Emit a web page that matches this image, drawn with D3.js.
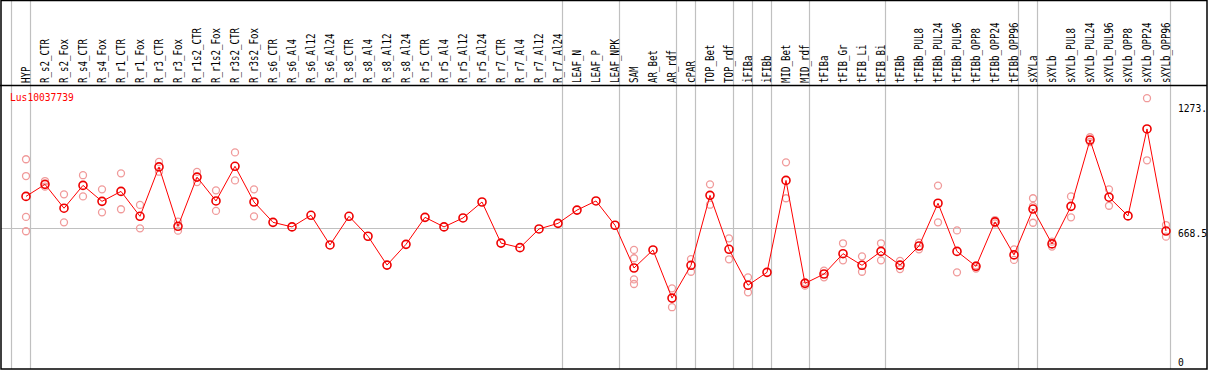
<!DOCTYPE html>
<html>
<head>
<meta charset="utf-8">
<script src="https://cdn.jsdelivr.net/npm/d3@7"></script>
<style>
  body { margin: 0; background: #fff; }
  text { font-family: "DejaVu Sans Mono", monospace; }
</style>
</head>
<body>
<svg id="chart" width="1209" height="370"></svg>
<script>
var geneName = "Lus10037739";

var samples = ["HYP", "R_s2_CTR", "R_s2_Fox", "R_s4_CTR", "R_s4_Fox", "R_r1_CTR", "R_r1_Fox",
  "R_r3_CTR", "R_r3_Fox", "R_r1s2_CTR", "R_r1s2_Fox", "R_r3s2_CTR", "R_r3s2_Fox",
  "R_s6_CTR", "R_s6_Al4", "R_s6_Al12", "R_s6_Al24", "R_s8_CTR", "R_s8_Al4", "R_s8_Al12", "R_s8_Al24",
  "R_r5_CTR", "R_r5_Al4", "R_r5_Al12", "R_r5_Al24", "R_r7_CTR", "R_r7_Al4", "R_r7_Al12", "R_r7_Al24",
  "LEAF_N", "LEAF_P", "LEAF_NPK", "SAM", "AR_Bet", "AR_rdf", "cPAR", "TOP_Bet", "TOP_rdf",
  "iFIBa", "iFIBb", "MID_Bet", "MID_rdf", "tFIBa", "tFIB_Gr", "tFIB_Li", "tFIB_Bi",
  "tFIBb", "tFIBb_PUL8", "tFIBb_PUL24", "tFIBb_PUL96", "tFIBb_OPP8", "tFIBb_OPP24", "tFIBb_OPP96",
  "sXYLa", "sXYLb", "sXYLb_PUL8", "sXYLb_PUL24", "sXYLb_PUL96", "sXYLb_OPP8", "sXYLb_OPP24", "sXYLb_OPP96"];

// mean expression per sample
var means = [822, 880, 765, 875, 798, 846, 726, 964, 678, 915, 800, 967, 795,
  697, 675, 731, 588, 726, 630, 491, 591, 721, 675, 718, 795, 597, 575, 665, 692,
  756, 800, 683, 477, 564, 332, 490, 827, 567, 394, 456, 899, 403,
  448, 546, 490, 557, 491, 583, 789, 557, 485, 699, 540,
  761, 593, 774, 1094, 818, 728, 1147, 655];

// replicate values per sample (empty when only the mean is shown)
var replicates = [
  [1001, 920, 723, 654], [896, 869], [832, 697], [924, 822], [856, 745], [933, 760], [781, 668],
  [988, 941], [700, 657], [940, 891], [851, 752], [1034, 899], [856, 726],
  [], [], [], [], [], [], [], [], [], [], [], [], [], [], [], [],
  [], [], [], [564, 524, 422, 400], [], [379, 288], [520, 459], [880, 782], [620, 519],
  [432, 360], [], [986, 813], [409, 392], [464, 432], [596, 514], [533, 459], [596, 514],
  [511, 472], [599, 567], [874, 697], [658, 456], [490, 474], [708, 692], [567, 516],
  [813, 775, 695], [604, 580], [822, 721], [1107, 1084], [856, 777], [], [1295, 996], [684, 628]];

// group separators: index of last sample in each group
var groupEnds = [0, 28, 31, 34, 35, 37, 38, 39, 41, 45, 52, 53, 60];

var yMax = 1337;
var yTicks = [{v: 1273, label: "1273.", pos: "top"}, {v: 668.5, label: "668.5", pos: "top"}, {v: 0, label: "0", pos: "bottom"}];

var headerBottom = 86, plotBottom = 369, frameRight = 1207;

var svg = d3.select("#chart");

var x = d3.scalePoint()
    .domain(samples)
    .range([26, 26 + 19 * (samples.length - 1)]);

var y = d3.scaleLinear()
    .domain([0, yMax])
    .range([367, 89.5]);

// vertical group lines
svg.append("line")
    .attr("x1", 11.5).attr("x2", 11.5)
    .attr("y1", 0).attr("y2", plotBottom)
    .attr("stroke", "#c0c0c0")
    .attr("stroke-width", 1.2);

svg.selectAll("line.group")
    .data(groupEnds)
  .enter().append("line")
    .attr("class", "group")
    .attr("x1", function(d) { return Math.round(x(samples[d]) + 5) - 0.5; })
    .attr("x2", function(d) { return Math.round(x(samples[d]) + 5) - 0.5; })
    .attr("y1", 0)
    .attr("y2", plotBottom)
    .attr("stroke", "#c0c0c0")
    .attr("stroke-width", 1.2);

// horizontal midline
svg.append("line")
    .attr("x1", 1).attr("x2", x(samples[samples.length - 1]) + 4.5)
    .attr("y1", Math.round(y(668.5)) + 0.5).attr("y2", Math.round(y(668.5)) + 0.5)
    .attr("stroke", "#c0c0c0");

// frame
svg.append("rect")
    .attr("x", 1).attr("y", 0.5)
    .attr("width", frameRight - 1).attr("height", plotBottom - 0.5)
    .attr("fill", "none")
    .attr("stroke", "#000")
    .attr("stroke-width", 1.5);

svg.append("line")
    .attr("x1", 0).attr("x2", frameRight)
    .attr("y1", headerBottom - 0.5).attr("y2", headerBottom - 0.5)
    .attr("stroke", "#000")
    .attr("stroke-width", 1.5);

// column labels
svg.selectAll("text.col")
    .data(samples)
  .enter().append("text")
    .attr("class", "col")
    .attr("transform", function(d) { return "translate(" + (x(d) + 4) + ",83) rotate(-90)"; })
    .attr("text-anchor", "start")
    .attr("font-size", "11.5px")
    .attr("textLength", function(d) { return d.length * 5.5; })
    .attr("lengthAdjust", "spacingAndGlyphs")
    .attr("fill", "#000")
    .text(function(d) { return d; });

// y labels
svg.selectAll("text.ylab")
    .data(yTicks)
  .enter().append("text")
    .attr("class", "ylab")
    .attr("x", 1178)
    .attr("y", function(d) { return d.pos == "top" ? y(d.v) + 9 : y(d.v) - 1; })
    .attr("font-size", "10.5px")
    .attr("textLength", function(d) { return d.label.length * 5.8; })
    .attr("lengthAdjust", "spacingAndGlyphs")
    .attr("fill", "#000")
    .text(function(d) { return d.label; });

// gene name
svg.append("text")
    .attr("x", 10)
    .attr("y", 101)
    .attr("font-size", "10.5px")
    .attr("textLength", geneName.length * 5.8)
    .attr("lengthAdjust", "spacingAndGlyphs")
    .attr("fill", "#ff0000")
    .text(geneName);

// replicates
var reps = [];
replicates.forEach(function(r, i) {
  r.forEach(function(v) { reps.push({s: samples[i], v: v}); });
});

svg.selectAll("circle.rep")
    .data(reps)
  .enter().append("circle")
    .attr("class", "rep")
    .attr("cx", function(d) { return x(d.s); })
    .attr("cy", function(d) { return y(d.v); })
    .attr("r", 3.5)
    .attr("fill", "none")
    .attr("stroke", "#f09a9a")
    .attr("stroke-width", 1.3);

// mean line
var line = d3.line()
    .x(function(d, i) { return x(samples[i]); })
    .y(function(d) { return y(d); });

svg.append("path")
    .datum(means)
    .attr("d", line)
    .attr("fill", "none")
    .attr("stroke", "#ff0000")
    .attr("stroke-width", 1);

svg.selectAll("circle.mean")
    .data(means)
  .enter().append("circle")
    .attr("class", "mean")
    .attr("cx", function(d, i) { return x(samples[i]); })
    .attr("cy", function(d) { return y(d); })
    .attr("r", 4)
    .attr("fill", "none")
    .attr("stroke", "#ee0000")
    .attr("stroke-width", 1.6);
</script>
</body>
</html>
